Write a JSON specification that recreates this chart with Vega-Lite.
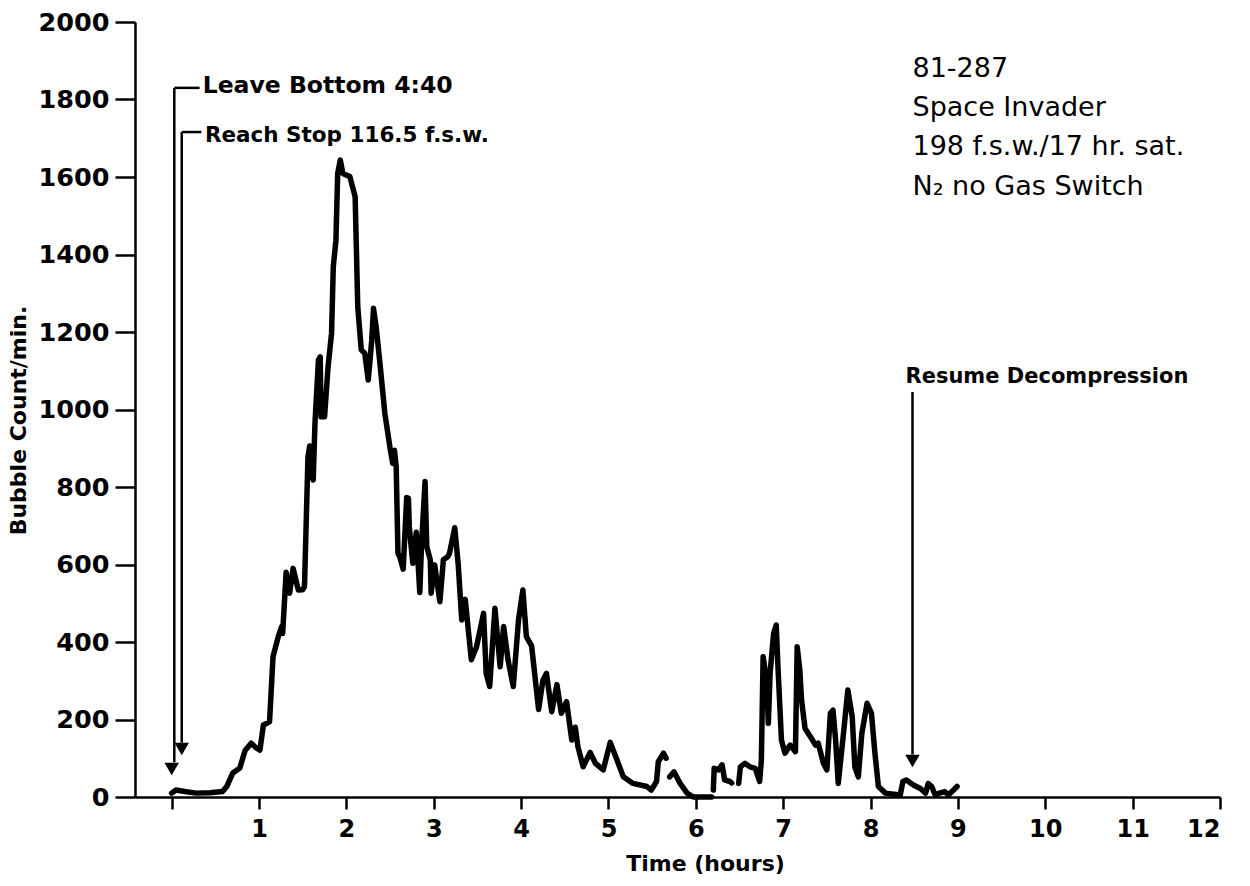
{
  "$schema": "https://vega.github.io/schema/vega-lite/v6.json",
  "autosize": "none",
  "width": 1085,
  "height": 775,
  "padding": {"left": 135, "top": 22, "right": 30, "bottom": 89},
  "background": "white",
  "config": {
    "view": {"stroke": null},
    "axis": {
      "domainColor": "black", "domainWidth": 2.5, "tickColor": "black", "tickWidth": 2.5,
      "labelColor": "black", "labelFont": "DejaVu Sans", "labelFontWeight": "bold", "labelFontSize": 24,
      "titleColor": "black", "titleFont": "DejaVu Sans", "titleFontWeight": "bold", "titleFontSize": 22,
      "grid": false
    }
  },
  "datasets": {
    "curve": [
      {"seg": "A", "h": 0.0, "v": 10}, {"seg": "A", "h": 0.05, "v": 18}, {"seg": "A", "h": 0.15, "v": 14}, {"seg": "A", "h": 0.28, "v": 10},
      {"seg": "A", "h": 0.44, "v": 11}, {"seg": "A", "h": 0.58, "v": 14}, {"seg": "A", "h": 0.63, "v": 27}, {"seg": "A", "h": 0.70, "v": 62},
      {"seg": "A", "h": 0.78, "v": 75}, {"seg": "A", "h": 0.84, "v": 120}, {"seg": "A", "h": 0.91, "v": 139}, {"seg": "A", "h": 0.96, "v": 128},
      {"seg": "A", "h": 1.01, "v": 121}, {"seg": "A", "h": 1.05, "v": 186}, {"seg": "A", "h": 1.12, "v": 194}, {"seg": "A", "h": 1.16, "v": 362},
      {"seg": "A", "h": 1.22, "v": 414}, {"seg": "A", "h": 1.26, "v": 440}, {"seg": "A", "h": 1.27, "v": 422}, {"seg": "A", "h": 1.31, "v": 580},
      {"seg": "A", "h": 1.35, "v": 526}, {"seg": "A", "h": 1.39, "v": 590}, {"seg": "A", "h": 1.45, "v": 534}, {"seg": "A", "h": 1.50, "v": 535},
      {"seg": "A", "h": 1.52, "v": 543}, {"seg": "A", "h": 1.56, "v": 878}, {"seg": "A", "h": 1.58, "v": 906}, {"seg": "A", "h": 1.60, "v": 830},
      {"seg": "A", "h": 1.62, "v": 818}, {"seg": "A", "h": 1.64, "v": 965}, {"seg": "A", "h": 1.68, "v": 1128}, {"seg": "A", "h": 1.70, "v": 1136},
      {"seg": "A", "h": 1.71, "v": 981}, {"seg": "A", "h": 1.75, "v": 981}, {"seg": "A", "h": 1.79, "v": 1110}, {"seg": "A", "h": 1.83, "v": 1197},
      {"seg": "A", "h": 1.85, "v": 1369}, {"seg": "A", "h": 1.88, "v": 1437}, {"seg": "A", "h": 1.90, "v": 1609}, {"seg": "A", "h": 1.93, "v": 1644},
      {"seg": "A", "h": 1.96, "v": 1609}, {"seg": "A", "h": 2.04, "v": 1601}, {"seg": "A", "h": 2.10, "v": 1549}, {"seg": "A", "h": 2.13, "v": 1265},
      {"seg": "A", "h": 2.17, "v": 1154}, {"seg": "A", "h": 2.21, "v": 1145}, {"seg": "A", "h": 2.25, "v": 1076}, {"seg": "A", "h": 2.29, "v": 1179},
      {"seg": "A", "h": 2.31, "v": 1261}, {"seg": "A", "h": 2.34, "v": 1214}, {"seg": "A", "h": 2.38, "v": 1128}, {"seg": "A", "h": 2.44, "v": 990},
      {"seg": "A", "h": 2.50, "v": 900}, {"seg": "A", "h": 2.53, "v": 861}, {"seg": "A", "h": 2.55, "v": 895}, {"seg": "A", "h": 2.57, "v": 852},
      {"seg": "A", "h": 2.59, "v": 629}, {"seg": "A", "h": 2.61, "v": 620}, {"seg": "A", "h": 2.65, "v": 588}, {"seg": "A", "h": 2.69, "v": 773},
      {"seg": "A", "h": 2.71, "v": 771}, {"seg": "A", "h": 2.72, "v": 697}, {"seg": "A", "h": 2.76, "v": 603}, {"seg": "A", "h": 2.80, "v": 683},
      {"seg": "A", "h": 2.84, "v": 528}, {"seg": "A", "h": 2.86, "v": 650}, {"seg": "A", "h": 2.90, "v": 814}, {"seg": "A", "h": 2.92, "v": 646},
      {"seg": "A", "h": 2.96, "v": 612}, {"seg": "A", "h": 2.97, "v": 526}, {"seg": "A", "h": 3.01, "v": 599}, {"seg": "A", "h": 3.07, "v": 504},
      {"seg": "A", "h": 3.11, "v": 612}, {"seg": "A", "h": 3.16, "v": 620}, {"seg": "A", "h": 3.18, "v": 629}, {"seg": "A", "h": 3.24, "v": 695},
      {"seg": "A", "h": 3.28, "v": 600}, {"seg": "A", "h": 3.32, "v": 457}, {"seg": "A", "h": 3.36, "v": 510}, {"seg": "A", "h": 3.43, "v": 354},
      {"seg": "A", "h": 3.49, "v": 388}, {"seg": "A", "h": 3.57, "v": 474}, {"seg": "A", "h": 3.60, "v": 319}, {"seg": "A", "h": 3.64, "v": 285},
      {"seg": "A", "h": 3.70, "v": 487}, {"seg": "A", "h": 3.76, "v": 336}, {"seg": "A", "h": 3.80, "v": 440}, {"seg": "A", "h": 3.85, "v": 354},
      {"seg": "A", "h": 3.91, "v": 285}, {"seg": "A", "h": 3.97, "v": 457}, {"seg": "A", "h": 4.02, "v": 534}, {"seg": "A", "h": 4.06, "v": 414},
      {"seg": "A", "h": 4.12, "v": 390}, {"seg": "A", "h": 4.20, "v": 226}, {"seg": "A", "h": 4.25, "v": 302}, {"seg": "A", "h": 4.29, "v": 319},
      {"seg": "A", "h": 4.35, "v": 220}, {"seg": "A", "h": 4.41, "v": 290}, {"seg": "A", "h": 4.46, "v": 216}, {"seg": "A", "h": 4.52, "v": 246},
      {"seg": "A", "h": 4.58, "v": 147}, {"seg": "A", "h": 4.62, "v": 180}, {"seg": "A", "h": 4.65, "v": 130}, {"seg": "A", "h": 4.71, "v": 78},
      {"seg": "A", "h": 4.79, "v": 115}, {"seg": "A", "h": 4.85, "v": 87}, {"seg": "A", "h": 4.94, "v": 70}, {"seg": "A", "h": 5.02, "v": 141},
      {"seg": "A", "h": 5.09, "v": 100}, {"seg": "A", "h": 5.17, "v": 52}, {"seg": "A", "h": 5.28, "v": 35}, {"seg": "A", "h": 5.44, "v": 27},
      {"seg": "A", "h": 5.49, "v": 18}, {"seg": "A", "h": 5.55, "v": 40}, {"seg": "A", "h": 5.57, "v": 91}, {"seg": "A", "h": 5.63, "v": 113},
      {"seg": "A", "h": 5.66, "v": 100},
      {"seg": "B", "h": 5.70, "v": 52}, {"seg": "B", "h": 5.75, "v": 65}, {"seg": "B", "h": 5.82, "v": 35}, {"seg": "B", "h": 5.90, "v": 10},
      {"seg": "B", "h": 5.97, "v": 0}, {"seg": "B", "h": 6.12, "v": 0}, {"seg": "B", "h": 6.18, "v": 0},
      {"seg": "C", "h": 6.20, "v": 18}, {"seg": "C", "h": 6.21, "v": 74}, {"seg": "C", "h": 6.26, "v": 70}, {"seg": "C", "h": 6.30, "v": 83},
      {"seg": "C", "h": 6.33, "v": 44}, {"seg": "C", "h": 6.39, "v": 40}, {"seg": "C", "h": 6.41, "v": 36},
      {"seg": "D", "h": 6.49, "v": 35}, {"seg": "D", "h": 6.51, "v": 78}, {"seg": "D", "h": 6.56, "v": 87}, {"seg": "D", "h": 6.62, "v": 78},
      {"seg": "D", "h": 6.68, "v": 74}, {"seg": "D", "h": 6.73, "v": 40}, {"seg": "D", "h": 6.75, "v": 95}, {"seg": "D", "h": 6.77, "v": 362},
      {"seg": "D", "h": 6.81, "v": 302}, {"seg": "D", "h": 6.83, "v": 190}, {"seg": "D", "h": 6.85, "v": 319}, {"seg": "D", "h": 6.89, "v": 422},
      {"seg": "D", "h": 6.92, "v": 444}, {"seg": "D", "h": 6.94, "v": 336}, {"seg": "D", "h": 6.98, "v": 147}, {"seg": "D", "h": 7.02, "v": 113},
      {"seg": "D", "h": 7.08, "v": 134}, {"seg": "D", "h": 7.14, "v": 117}, {"seg": "D", "h": 7.16, "v": 388}, {"seg": "D", "h": 7.19, "v": 328},
      {"seg": "D", "h": 7.21, "v": 250}, {"seg": "D", "h": 7.25, "v": 177}, {"seg": "D", "h": 7.31, "v": 156}, {"seg": "D", "h": 7.37, "v": 134},
      {"seg": "D", "h": 7.40, "v": 139}, {"seg": "D", "h": 7.46, "v": 87}, {"seg": "D", "h": 7.50, "v": 70}, {"seg": "D", "h": 7.54, "v": 216},
      {"seg": "D", "h": 7.57, "v": 224}, {"seg": "D", "h": 7.60, "v": 147}, {"seg": "D", "h": 7.63, "v": 35}, {"seg": "D", "h": 7.69, "v": 164},
      {"seg": "D", "h": 7.74, "v": 276}, {"seg": "D", "h": 7.79, "v": 207}, {"seg": "D", "h": 7.82, "v": 78}, {"seg": "D", "h": 7.86, "v": 52},
      {"seg": "D", "h": 7.90, "v": 164}, {"seg": "D", "h": 7.96, "v": 242}, {"seg": "D", "h": 8.01, "v": 216}, {"seg": "D", "h": 8.05, "v": 113},
      {"seg": "D", "h": 8.09, "v": 27}, {"seg": "D", "h": 8.17, "v": 10}, {"seg": "D", "h": 8.34, "v": 5}, {"seg": "D", "h": 8.37, "v": 40},
      {"seg": "D", "h": 8.41, "v": 44}, {"seg": "D", "h": 8.49, "v": 31}, {"seg": "D", "h": 8.57, "v": 22}, {"seg": "D", "h": 8.63, "v": 10},
      {"seg": "D", "h": 8.66, "v": 35}, {"seg": "D", "h": 8.70, "v": 27}, {"seg": "D", "h": 8.74, "v": 5}, {"seg": "D", "h": 8.79, "v": 10},
      {"seg": "D", "h": 8.85, "v": 14}, {"seg": "D", "h": 8.89, "v": 5}, {"seg": "D", "h": 8.95, "v": 18}, {"seg": "D", "h": 8.99, "v": 27}
    ],
    "guides": [
      {"x": 0.03, "x2": 0.32, "y": 1830, "y2": 1830},
      {"x": 0.03, "x2": 0.03, "y": 1830, "y2": 90},
      {"x": 0.115, "x2": 0.34, "y": 1716, "y2": 1716},
      {"x": 0.115, "x2": 0.115, "y": 1716, "y2": 140},
      {"x": 8.48, "x2": 8.48, "y": 1045, "y2": 110}
    ],
    "heads": [
      {"x": 0.0, "y": 72},
      {"x": 0.115, "y": 124},
      {"x": 8.48, "y": 93}
    ],
    "boldnotes": [
      {"x": 0.355, "y": 1817, "t": "Leave Bottom 4:40", "s": 23.5},
      {"x": 0.38, "y": 1690, "t": "Reach Stop 116.5 f.s.w.", "s": 21.5},
      {"x": 8.40, "y": 1068, "t": "Resume Decompression", "s": 21}
    ],
    "notes": [
      {"x": 8.48, "y": 1858, "t": "81-287"},
      {"x": 8.48, "y": 1757, "t": "Space Invader"},
      {"x": 8.48, "y": 1657, "t": "198 f.s.w./17 hr. sat."},
      {"x": 8.48, "y": 1554, "t": "N₂ no Gas Switch"}
    ]
  },
  "layer": [
    {
      "data": {"name": "curve"},
      "mark": {"type": "line", "color": "black", "strokeWidth": 5.5, "strokeJoin": "round", "strokeCap": "round"},
      "encoding": {
        "x": {"field": "h", "type": "quantitative", "scale": {"domain": [-0.42, 12], "nice": false, "zero": false},
          "axis": {"values": [0,1,2,3,4,5,6,7,8,9,10,11,12], "format": "d", "labelExpr": "datum.value == 0 ? '' : datum.label", "tickSize": 12, "labelPadding": 8, "title": "Time (hours)", "titlePadding": 12, "titleX": 570, "titleAnchor": "start", "titleAlign": "center"}},
        "y": {"field": "v", "type": "quantitative", "scale": {"domain": [0, 2000], "nice": false},
          "axis": {"values": [0,200,400,600,800,1000,1200,1400,1600,1800,2000], "format": "d", "labelFontSize": 25.5, "tickSize": 20, "labelPadding": 6, "title": "Bubble Count/min.", "titlePadding": 8, "titleY": 398, "titleAlign": "center"}},
        "detail": {"field": "seg", "type": "nominal"}
      }
    },
    {
      "data": {"name": "guides"},
      "mark": {"type": "rule", "color": "black", "strokeWidth": 2.5},
      "encoding": {
        "x": {"field": "x", "type": "quantitative"},
        "x2": {"field": "x2"},
        "y": {"field": "y", "type": "quantitative"},
        "y2": {"field": "y2"}
      }
    },
    {
      "data": {"name": "heads"},
      "mark": {"type": "point", "shape": "triangle-down", "filled": true, "color": "black", "size": 210, "opacity": 1},
      "encoding": {
        "x": {"field": "x", "type": "quantitative"},
        "y": {"field": "y", "type": "quantitative"}
      }
    },
    {
      "data": {"name": "boldnotes"},
      "mark": {"type": "text", "align": "left", "baseline": "alphabetic", "font": "DejaVu Sans", "fontWeight": "bold", "color": "black"},
      "encoding": {
        "x": {"field": "x", "type": "quantitative"},
        "y": {"field": "y", "type": "quantitative"},
        "text": {"field": "t"},
        "size": {"field": "s", "type": "quantitative", "scale": null}
      }
    },
    {
      "data": {"name": "notes"},
      "mark": {"type": "text", "align": "left", "baseline": "alphabetic", "font": "DejaVu Sans", "fontSize": 27, "color": "black"},
      "encoding": {
        "x": {"field": "x", "type": "quantitative"},
        "y": {"field": "y", "type": "quantitative"},
        "text": {"field": "t"}
      }
    }
  ]
}
